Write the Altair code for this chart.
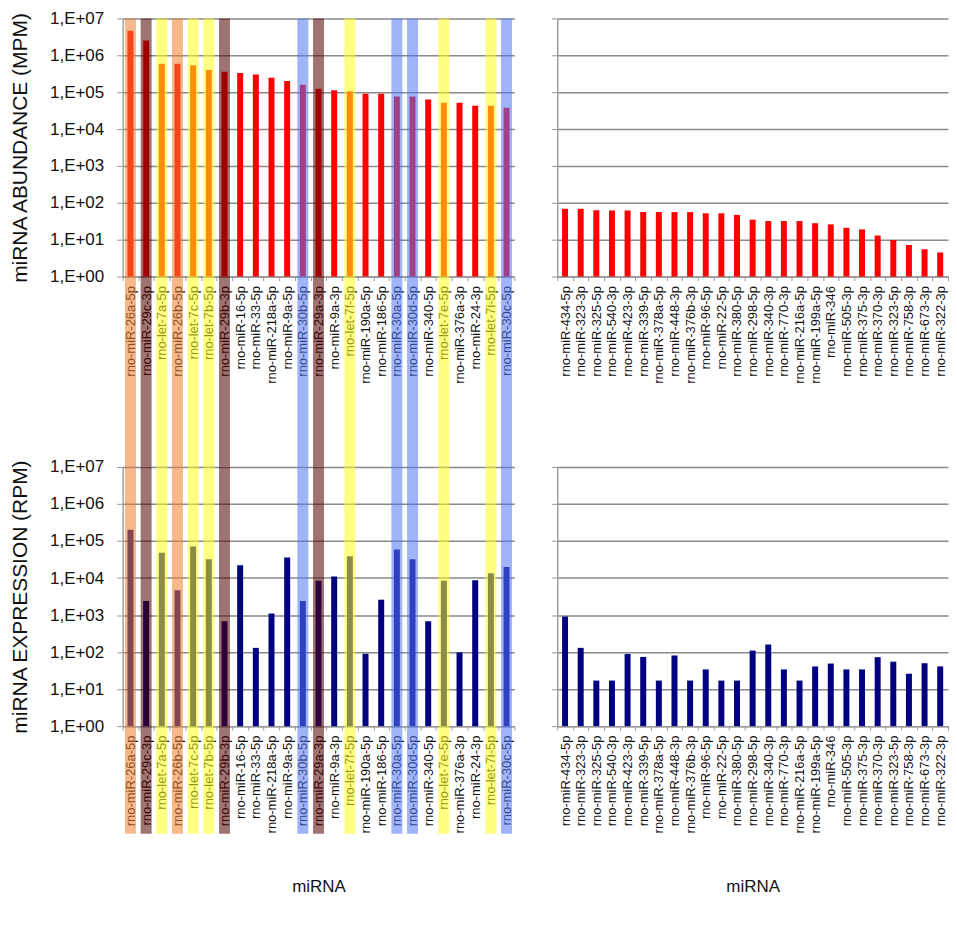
import altair as alt
import pandas as pd

FONT = "Liberation Sans"

left_labels = [
    "rno-miR-26a-5p", "rno-miR-29c-3p", "rno-let-7a-5p", "rno-miR-26b-5p", "rno-let-7c-5p",
    "rno-let-7b-5p", "rno-miR-29b-3p", "rno-miR-16-5p", "rno-miR-33-5p", "rno-miR-218a-5p",
    "rno-miR-9a-5p", "rno-miR-30b-5p", "rno-miR-29a-3p", "rno-miR-9a-3p", "rno-let-7f-5p",
    "rno-miR-190a-5p", "rno-miR-186-5p", "rno-miR-30a-5p", "rno-miR-30d-5p", "rno-miR-340-5p",
    "rno-let-7e-5p", "rno-miR-376a-3p", "rno-miR-24-3p", "rno-let-7i-5p", "rno-miR-30c-5p",
]
left_groups = [
    "orange", "brown", "yellow", "orange", "yellow",
    "yellow", "brown", "", "", "",
    "", "blue", "brown", "", "yellow",
    "", "", "blue", "blue", "",
    "yellow", "", "", "yellow", "blue",
]
top_left_values = [
    4.6e6, 2.5e6, 5.9e5, 5.9e5, 5.4e5,
    4.0e5, 3.6e5, 3.3e5, 3.0e5, 2.45e5,
    2.0e5, 1.6e5, 1.23e5, 1.12e5, 1.05e5,
    9.1e4, 9.1e4, 7.6e4, 7.6e4, 6.3e4,
    5.2e4, 5.2e4, 4.3e4, 4.3e4, 3.8e4,
]
bottom_left_values = [
    2.0e5, 2.4e3, 4.8e4, 4.7e3, 7.1e4,
    3.2e4, 680, 2.2e4, 130, 1.1e3,
    3.6e4, 2.4e3, 8.5e3, 1.1e4, 3.9e4,
    90, 2.6e3, 5.9e4, 3.2e4, 680,
    8.5e3, 98, 8.7e3, 1.35e4, 2.0e4,
]

right_labels = [
    "rno-miR-434-5p", "rno-miR-323-3p", "rno-miR-325-5p", "rno-miR-540-3p", "rno-miR-423-3p",
    "rno-miR-339-5p", "rno-miR-378a-5p", "rno-miR-448-3p", "rno-miR-376b-3p", "rno-miR-96-5p",
    "rno-miR-22-5p", "rno-miR-380-5p", "rno-miR-298-5p", "rno-miR-340-3p", "rno-miR-770-3p",
    "rno-miR-216a-5p", "rno-miR-199a-5p", "rno-miR-346", "rno-miR-505-3p", "rno-miR-375-3p",
    "rno-miR-370-3p", "rno-miR-323-5p", "rno-miR-758-3p", "rno-miR-673-3p", "rno-miR-322-3p",
]
top_right_values = [
    69, 69, 63, 62, 62,
    56, 56, 56, 56, 52,
    52, 47, 35, 32, 32,
    32, 28, 26, 21, 19,
    13, 9.8, 7.2, 5.5, 4.5,
]
bottom_right_values = [
    910, 130, 17, 17, 89,
    74, 17, 81, 17, 34,
    17, 17, 110, 160, 34,
    17, 41, 49, 34, 34,
    73, 55, 26, 50, 41,
]

tick_values = [1, 10, 100, 1e3, 1e4, 1e5, 1e6, 1e7]
band_names = ["orange", "brown", "yellow", "blue"]
band_colors = ["#EC7F2D", "#520000", "#FFFF1B", "#5276F5"]

GRID = "#8a8a8a"
AXIS = "#9a9a9a"

LW, RW = 393, 392
TH, BH = 259, 260


def panel(labels, values, bar_color, width, height, ytitle, xtitle, show_ylabels, groups, band_y2):
    df = pd.DataFrame({"name": labels, "amount": values})
    yaxis_kw = dict(
        values=tick_values,
        grid=True, gridColor=GRID, gridWidth=1.5,
        domainColor=AXIS, tickColor=AXIS, tickSize=6, domainWidth=1.4,
    )
    if show_ylabels:
        yaxis_kw.update(
            labelExpr="'1,E+0' + round(log(datum.value) / LN10)",
            labelFont=FONT, labelFontSize=17, labelColor="#111", labelPadding=13,
            title=ytitle, titleFont=FONT, titleFontSize=21, titleFontWeight="normal",
            titleColor="#111", titleX=-102, titleY=height / 2, titleAngle=270,
            titleBaseline="middle", titleAlign="center",
        )
    else:
        yaxis_kw.update(labels=False, title=None)
    xaxis_kw = dict(
        labelAngle=270, labelFont=FONT, labelFontSize=13, labelColor="#111",
        labelPadding=5, labelOverlap=False, tickBand="extent", tickSize=4,
        tickColor=AXIS, domainColor=AXIS, domainWidth=1.4,
    )
    if xtitle:
        xaxis_kw.update(
            title=xtitle, titleFont=FONT, titleFontSize=17, titleFontWeight="normal",
            titleColor="#111", titleY=161, titleBaseline="middle",
        )
    else:
        xaxis_kw.update(title=None)
    xenc = alt.X("name:N", sort=labels,
                 scale=alt.Scale(domain=labels, paddingInner=0, paddingOuter=0),
                 axis=alt.Axis(**xaxis_kw))
    bars = alt.Chart(df).mark_bar(size=6, color=bar_color).encode(
        x=xenc,
        y=alt.Y("amount:Q", stack=None,
                scale=alt.Scale(type="log", domain=[1, 1e7]),
                axis=alt.Axis(**yaxis_kw)),
    )
    layers = [bars]
    if groups is not None:
        bdf = pd.DataFrame({"name": labels, "grp": groups})
        bdf = bdf[bdf["grp"] != ""]
        bands = alt.Chart(bdf).mark_bar(size=11, opacity=0.55).encode(
            x=xenc,
            y=alt.value(0),
            y2=alt.value(band_y2),
            color=alt.Color("grp:N", scale=alt.Scale(domain=band_names, range=band_colors), legend=None),
        )
        layers.append(bands)
    return alt.layer(*layers).properties(width=width, height=height)


tl = panel(left_labels, top_left_values, "#FF0000", LW, TH, "miRNA ABUNDANCE (MPM)", None, True, left_groups, 450)
tr = panel(right_labels, top_right_values, "#FF0000", RW, TH, None, None, False, None, 0)
bl = panel(left_labels, bottom_left_values, "#000080", LW, BH, "miRNA EXPRESSION (RPM)", "miRNA", True, left_groups, 368)
br = panel(right_labels, bottom_right_values, "#000080", RW, BH, None, "miRNA", False, None, 0)

chart = alt.concat(
    tl, tr, bl, br, columns=2,
    spacing={"row": 191, "column": 43}, bounds="flush",
).properties(
    padding={"left": 2, "top": 0, "right": 0, "bottom": 5},
    background="white",
).configure_view(stroke=None)

chart.save("out.html", embed_options={"renderer": "svg", "actions": False})
